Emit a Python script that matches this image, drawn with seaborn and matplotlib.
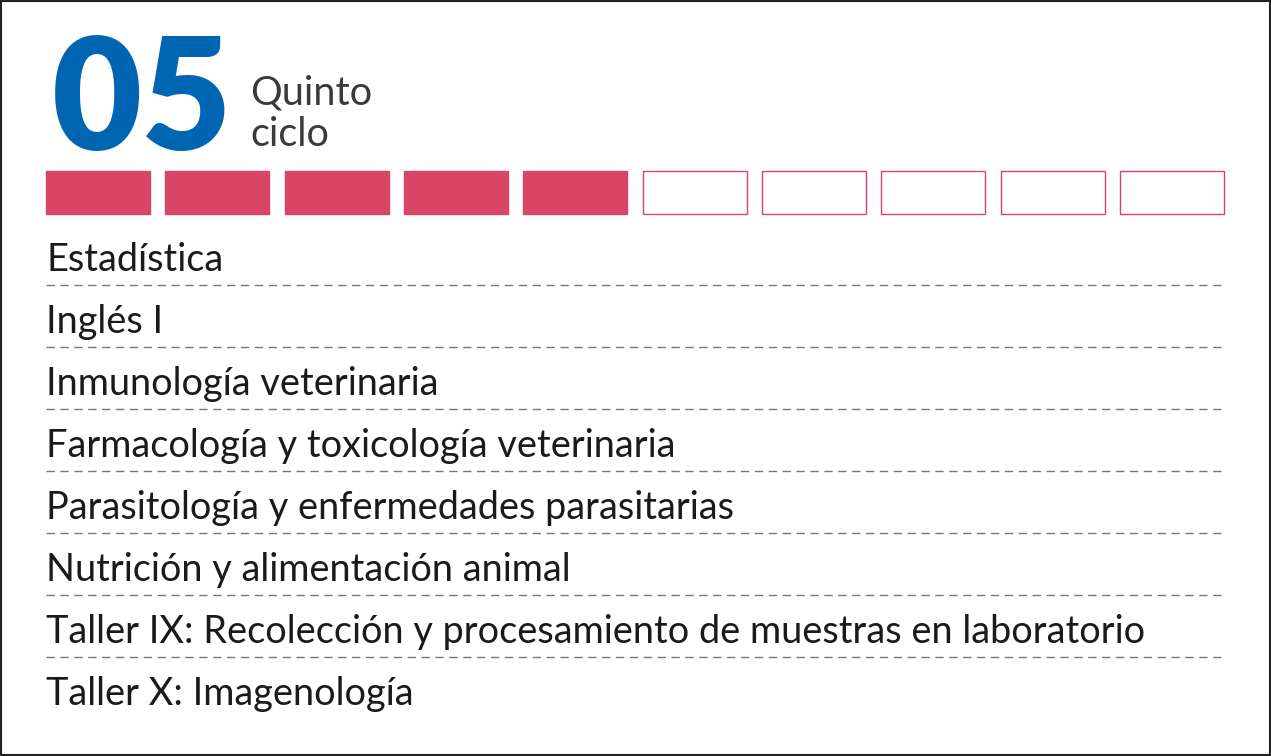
import matplotlib
matplotlib.use("Agg")
import matplotlib.pyplot as plt
import seaborn as sns
import numpy as np

cycle_number = "05"
cycle_name = ["Quinto", "ciclo"]
total_cycles = 10
completed_cycles = 5
courses = [
    "Estadística",
    "Inglés I",
    "Inmunología veterinaria",
    "Farmacología y toxicología veterinaria",
    "Parasitología y enfermedades parasitarias",
    "Nutrición y alimentación animal",
    "Taller IX: Recolección y procesamiento de muestras en laboratorio",
    "Taller X: Imagenología",
]

sns.set_theme(style="white")
W, H = 1271, 756
fig = plt.figure(figsize=(W / 100, H / 100), dpi=100)
ax = fig.add_axes([0, 0, 1, 1])
ax.set_xlim(0, W)
ax.set_ylim(H, 0)
ax.axis("off")

ax.add_patch(plt.Rectangle((1, 1), W - 2, H - 2, fill=False, lw=1.5, ec="#222222"))

pink = "#d94567"
blue = "#0066b3"
ax.text(52, 150, cycle_number, fontsize=112, fontweight="black", color=blue,
        family="Lato", va="baseline", ha="left")
ax.text(250, 104, cycle_name[0], fontsize=28.5, color="#3a3a3a", family="Lato", va="baseline")
ax.text(250, 146, cycle_name[1], fontsize=28.5, color="#3a3a3a", family="Lato", va="baseline")

x0, x1, gap = 46, 1224, 15.5
bw = (x1 - x0 - gap * (total_cycles - 1)) / total_cycles
idx = np.arange(total_cycles)
lefts = x0 + idx * (bw + gap)
filled = idx < completed_cycles
ax.bar(lefts[filled], 43, width=bw, bottom=171, align="edge", color=pink, edgecolor=pink, lw=1)
ax.bar(lefts[~filled], 43, width=bw, bottom=171, align="edge", color="white", edgecolor=pink, lw=1)

y_first, step = 271, 62
for i, c in enumerate(courses):
    y = y_first + i * step
    ax.text(46, y, c, fontsize=27.3, color="#1a1a1a", family="Lato", va="baseline")
    if i < len(courses) - 1:
        ax.plot([46, 1224], [y + 14, y + 14], color="#777777", lw=1, ls=(0, (6, 4)))

fig.savefig("out.png", dpi=100)
